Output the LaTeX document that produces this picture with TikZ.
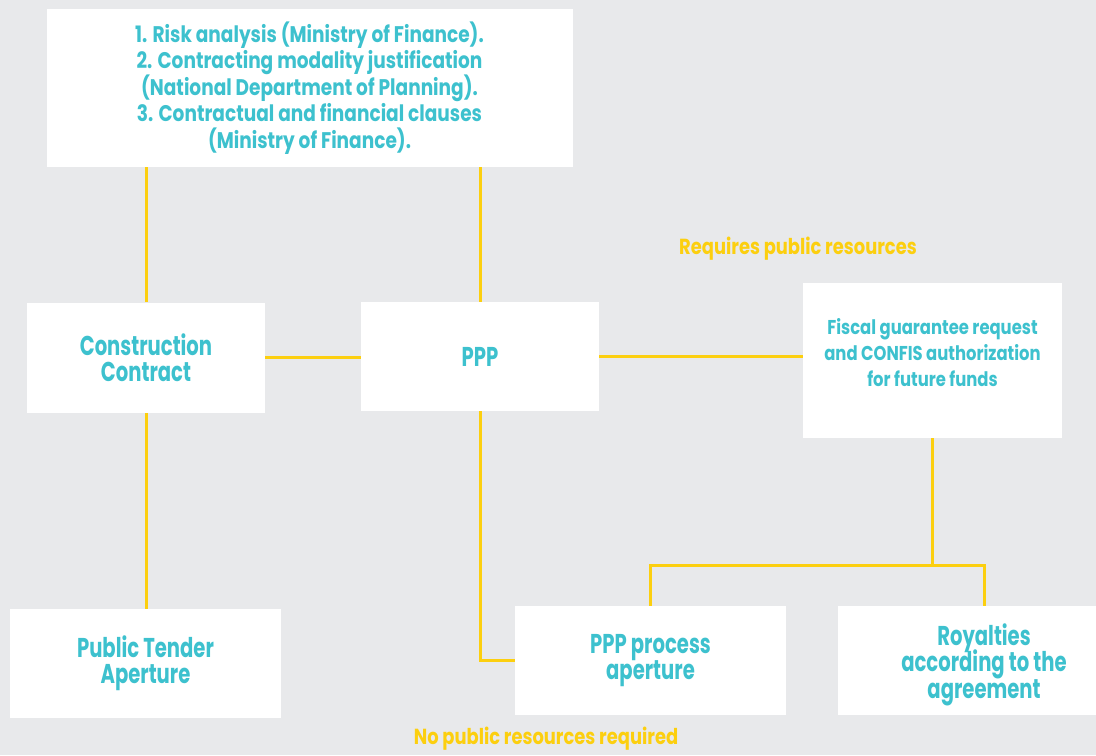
\documentclass[tikz,border=0pt]{standalone}
\usepackage{fontspec}
\setmainfont{Poppins}[FakeStretch=0.82]
\newfontfamily\bigfont{Poppins}[FakeStretch=0.72]
\definecolor{pppteal}{HTML}{3DC1CE}
\definecolor{pppyellow}{HTML}{FCCF0F}
\definecolor{pppgray}{HTML}{E8E9EB}
\lineskiplimit=-20pt
\tikzset{
    box/.style={fill=white, text=pppteal, align=center, inner sep=0pt},
    bigbox/.style={box, minimum width=135.5pt, minimum height=54.5pt, font=\bigfont\bfseries\fontsize{13.6}{13.2}\selectfont},
    link/.style={draw=pppyellow, line width=1.5pt},
    note/.style={text=pppyellow, font=\bfseries\fontsize{10.9}{13}\selectfont},
}

\begin{document}
\begin{tikzpicture}[x=0.5pt, y=-0.5pt]
    \useasboundingbox (0,0) rectangle (1096,755);
    \fill[pppgray] (0,0) rectangle (1096,755);
    \clip (0,0) rectangle (1096,755);

    \node [box, minimum width=263pt, minimum height=79pt, font=\bfseries\fontsize{11.3}{13.2}\selectfont] (steps) at (309.5,88)
        {1. Risk analysis (Ministry of Finance).\\2. Contracting modality justification\\(National Department of Planning).\\3. Contractual and financial clauses\\(Ministry of Finance).};
    \node [bigbox, minimum width=119pt, minimum height=55pt] (construction) at (146,357.5) {Construction\\Contract};
    \node [bigbox, minimum width=119pt] (ppp) at (480,356.5) {PPP};
    \node [box, minimum width=129.5pt, minimum height=77.5pt, font=\bfseries\fontsize{10}{13.2}\selectfont] (fiscal) at (932.5,360.5)
        {Fiscal guarantee request\\and CONFIS authorization\\for future funds\rule[-8pt]{0pt}{8pt}};
    \node [bigbox] (tender) at (145.5,663.5) {Public Tender\\Aperture};
    \node [bigbox] (process) at (650.5,660.5) {PPP process\\aperture};
    \node [bigbox, minimum width=146pt] (royalties) at (984,660.5) {\rule{0pt}{15pt}Royalties\\according to the\\agreement};

    \node [note] (requires) at (798,249) {Requires public resources};
    \node [note] (norequires) at (546,739) {No public resources required};

    \coordinate (fork) at (929,565);
    \draw [link] (construction.north) -- (construction.north |- steps.south);
    \draw [link] (construction.south) -- (construction.south |- tender.north);
    \draw [link] (ppp.north) -- (ppp.north |- steps.south);
    \draw [link] (construction.east) -- (construction.east -| ppp.west);
    \draw [link] (ppp.east) -- (ppp.east -| fiscal.west);
    \draw [link] (ppp.south) |- (process.west);
    \draw [link] (fiscal.south) -- (fiscal.south |- fork);
    \draw [link] (process.north) |- (fork) -| (royalties.north);
\end{tikzpicture}
\end{document}
